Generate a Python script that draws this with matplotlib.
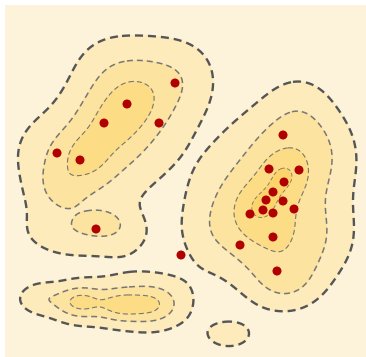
"""
Density contour map: scatter of observed points over a filled, dashed
contour plot of a smooth density (sum of Gaussian components).
"""

import numpy as np
import matplotlib
matplotlib.use("Agg")
import matplotlib.pyplot as plt
from matplotlib.patches import Rectangle

# ── Data (pixel-space coordinates, y grows downward) ─────────────────────────

point_x = [175, 127, 104, 159, 57, 80, 96,
           283, 269, 299, 284, 273, 266, 283, 294, 250, 263, 273, 273, 240, 277, 181]
point_y = [83, 104, 123, 123, 153, 160, 229,
           135, 169, 170, 182, 192, 200, 201, 209, 214, 210, 213, 237, 245, 271, 255]

# density components: centre, spread (x / y) and weight
comp_x  = [60, 85, 110, 135, 178, 100, 140, 60, 103, 80, 125, 40, 100, 190,
           275, 290, 250, 285, 320, 320, 273, 285, 260, 300, 200, 285,
           40, 80, 120, 150, 100, 100, 155,
           229]
comp_y  = [185, 158, 128, 100, 82, 150, 90, 200, 222, 235, 235, 150, 60, 70,
           195, 150, 220, 260, 150, 240, 192, 175, 208, 100, 240, 285,
           298, 302, 305, 305, 303, 303, 303,
           335]
comp_sx = [14, 18, 22, 22, 20, 45, 40, 30, 14, 40, 20, 25, 25, 28,
           50, 35, 35, 30, 30, 30, 12, 12, 12, 25, 18, 25,
           15, 15, 15, 15, 35, 60, 25,
           20]
comp_sy = [14, 18, 22, 22, 20, 45, 40, 30, 9, 16, 20, 25, 25, 28,
           50, 35, 35, 30, 30, 30, 12, 12, 12, 25, 25, 20,
           10, 10, 10, 10, 16, 24, 20,
           12]
comp_w  = [0.503, 1.175, 0.938, 0.964, 0.194, 1.285, 1.297, 0.756, 0.761, 0.784,
           0.432, 0.463, 0.256, 0.45,
           1.12, 1.161, 1.578, 0.676, 0.481, 0.654, 1.006, 1.653, 1.480, 0.498,
           0.307, 0.85,
           0.781, 1.818, 1.595, 0.983, 0.30, 0.743, 1.061,
           0.952]

thresholds = [0.65, 1.472, 2.430, 4.0]

# ── Style ─────────────────────────────────────────────────────────────────────

W, H        = 366, 357
BG          = "#fdf3da"
FILLS       = ["#fdebbc", "#fde3a0", "#fddc86", "#fdd46c"]
LINE_COLORS = ["#555555", "#777777", "#777777", "#777777"]
LINE_WIDTHS = [1.7, 1.1, 0.8, 0.6]
LINE_DASHES = [(0, (3.4, 2.1)), (0, (3.9, 2.6)), (0, (4.5, 2.7)), (0, (4.5, 3.0))]
POINT_COLOR = "#b00000"


def density(X, Y):
    Z = np.zeros_like(X, dtype=float)
    for cx, cy, sx, sy, w in zip(comp_x, comp_y, comp_sx, comp_sy, comp_w):
        Z += w * np.exp(-0.5 * (((X - cx) / sx) ** 2 + ((Y - cy) / sy) ** 2))
    return Z


fig = plt.figure(figsize=(W / 100, H / 100), dpi=100)
ax = fig.add_axes([0, 0, 1, 1])
ax.set_xlim(0, W)
ax.set_ylim(H, 0)
ax.axis("off")

ax.add_patch(Rectangle((5, 5), W - 5, H - 5, facecolor=BG, edgecolor="none", zorder=0))

gx, gy = np.meshgrid(np.arange(5, W + 1, 1.0), np.arange(5, H + 1, 1.0))
Z = density(gx, gy)

ax.contourf(gx, gy, Z, levels=thresholds + [Z.max() + 1], colors=FILLS, zorder=1)
ax.contour(gx, gy, Z, levels=thresholds, colors=LINE_COLORS,
           linewidths=LINE_WIDTHS, linestyles=LINE_DASHES, zorder=2)

ax.scatter(point_x, point_y, s=42, color=POINT_COLOR, edgecolors="none", zorder=3)

fig.savefig("out.png", dpi=100)
